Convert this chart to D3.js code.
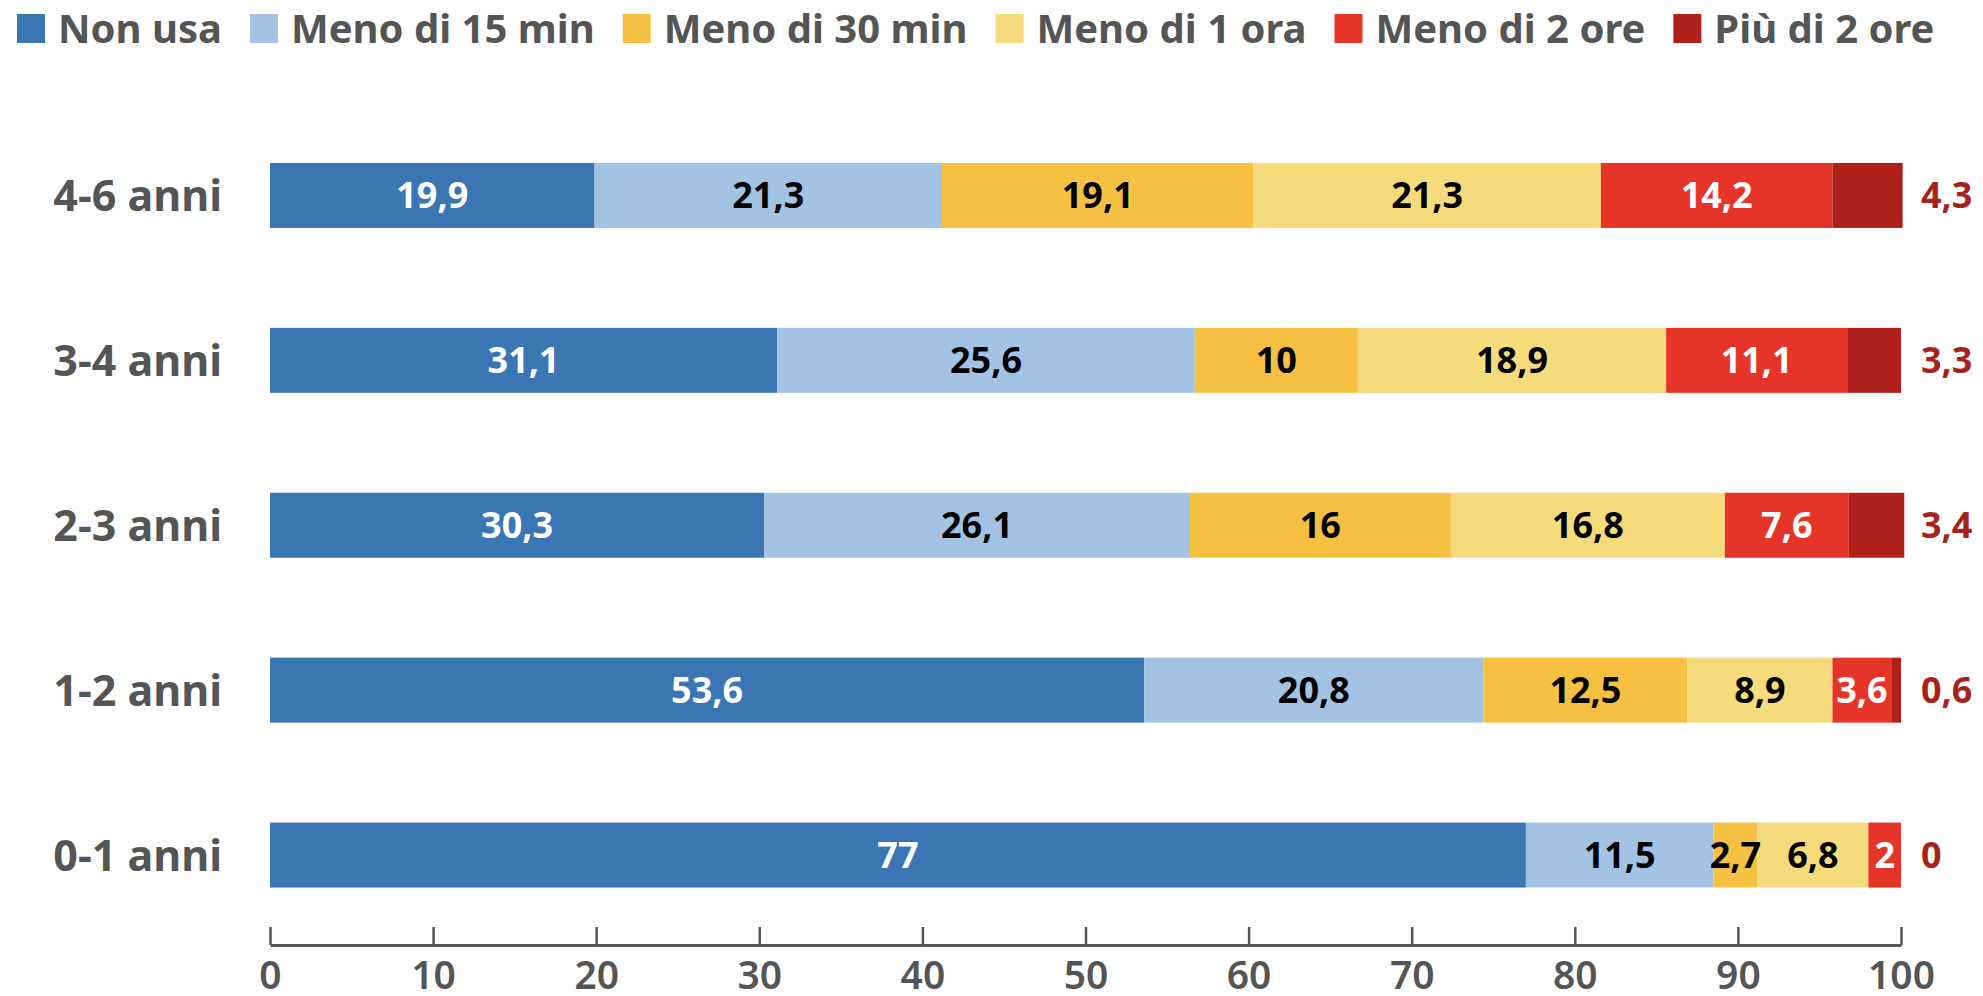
<!DOCTYPE html>
<html>
<head>
<meta charset="utf-8">
<script src="https://cdn.jsdelivr.net/npm/d3@7"></script>
<style>
  html, body { margin: 0; padding: 0; background: #ffffff; }
  svg { display: block; }
  text { font-family: "Noto Sans", "Open Sans", sans-serif; }
</style>
</head>
<body>
<svg id="chart" width="1983" height="996"></svg>
<script>
// Età dei bambini (dall'alto verso il basso)
const ageGroups = ["4-6 anni", "3-4 anni", "2-3 anni", "1-2 anni", "0-1 anni"];

// Tempo di utilizzo: nome della serie
const seriesNames = ["Non usa", "Meno di 15 min", "Meno di 30 min", "Meno di 1 ora", "Meno di 2 ore", "Più di 2 ore"];

// Percentuali per ciascuna serie, nello stesso ordine di ageGroups
const nonUsa      = [19.9, 31.1, 30.3, 53.6, 77];
const meno15min   = [21.3, 25.6, 26.1, 20.8, 11.5];
const meno30min   = [19.1, 10,   16,   12.5, 2.7];
const meno1ora    = [21.3, 18.9, 16.8, 8.9,  6.8];
const meno2ore    = [14.2, 11.1, 7.6,  3.6,  2];
const piuDi2ore   = [4.3,  3.3,  3.4,  0.6,  0];

const seriesValues = [nonUsa, meno15min, meno30min, meno1ora, meno2ore, piuDi2ore];

const xTicks = [0, 10, 20, 30, 40, 50, 60, 70, 80, 90, 100];

const colors = ["#3a76b3", "#a2c3e4", "#f6c143", "#f5db7b", "#e63528", "#b0201b"];
const labelColors = ["#ffffff", "#000000", "#000000", "#000000", "#ffffff", "#ffffff"];
const outsideColor = "#a8221c";
const grey = "#555555";

// Build rows for the stack
const rows = ageGroups.map((g, i) => {
  const r = { group: g };
  seriesNames.forEach((s, j) => { r[s] = seriesValues[j][i]; });
  return r;
});

const stacked = d3.stack().keys(seriesNames)(rows);

const svg = d3.select("#chart");

const x = d3.scaleLinear().domain([0, 100]).range([270, 1901]);
const y = d3.scaleBand()
  .domain(ageGroups)
  .range([113, 937.5])
  .paddingInner(0.606)
  .paddingOuter(0.303);

const fmt = v => String(v).replace(".", ",");

// Bars
const layers = svg.append("g").selectAll("g")
  .data(stacked)
  .join("g")
  .attr("fill", (d, i) => colors[i]);

layers.selectAll("rect")
  .data(d => d)
  .join("rect")
  .attr("x", d => x(d[0]))
  .attr("y", d => y(d.data.group))
  .attr("width", d => x(d[1]) - x(d[0]))
  .attr("height", y.bandwidth());

// Value labels inside the segments (all but the last series)
stacked.forEach((layer, i) => {
  if (i === seriesNames.length - 1) return;
  svg.append("g").selectAll("text")
    .data(layer.filter(d => d[1] - d[0] > 0))
    .join("text")
    .attr("x", d => x((d[0] + d[1]) / 2))
    .attr("y", d => y(d.data.group) + y.bandwidth() / 2)
    .attr("dy", "0.36em")
    .attr("text-anchor", "middle")
    .attr("font-size", 36)
    .attr("font-weight", 700)
    .attr("fill", labelColors[i])
    .text(d => fmt(d.data[layer.key]));
});

// Last series: value written to the right of the bar
const lastLayer = stacked[stacked.length - 1];
svg.append("g").selectAll("text")
  .data(lastLayer)
  .join("text")
  .attr("x", x(100) + 20)
  .attr("y", d => y(d.data.group) + y.bandwidth() / 2)
  .attr("dy", "0.36em")
  .attr("font-size", 36)
  .attr("font-weight", 700)
  .attr("fill", outsideColor)
  .text(d => fmt(d.data[lastLayer.key]));

// Category labels
svg.append("g").selectAll("text")
  .data(ageGroups)
  .join("text")
  .attr("x", 222)
  .attr("y", d => y(d) + y.bandwidth() / 2)
  .attr("dy", "0.36em")
  .attr("text-anchor", "end")
  .attr("font-size", 43)
  .attr("font-weight", 700)
  .attr("fill", grey)
  .text(d => d);

// X axis with ticks pointing upward
const axis = d3.axisBottom(x)
  .tickValues(xTicks)
  .tickSizeInner(-18)
  .tickSizeOuter(0)
  .tickPadding(16)
  .tickFormat(d3.format("d"));

const gAxis = svg.append("g")
  .attr("transform", "translate(0,945)")
  .call(axis);
gAxis.select(".domain").attr("stroke", grey).attr("stroke-width", 3);
gAxis.selectAll(".tick line").attr("stroke", grey).attr("stroke-width", 2.5);
gAxis.selectAll(".tick text")
  .attr("font-family", "\"Noto Sans\", sans-serif")
  .attr("font-size", 39)
  .attr("font-weight", 600)
  .attr("fill", grey);

// Legend
const legend = svg.append("g");
let lx = 17;
seriesNames.forEach((name, i) => {
  legend.append("rect")
    .attr("x", lx).attr("y", 14)
    .attr("width", 28).attr("height", 29)
    .attr("fill", colors[i]);
  const t = legend.append("text")
    .attr("x", lx + 41)
    .attr("y", 43)
    .attr("font-size", 40)
    .attr("font-weight", 700)
    .attr("fill", grey)
    .text(name);
  lx += 41 + t.node().getComputedTextLength() + 28;
});
</script>
</body>
</html>
